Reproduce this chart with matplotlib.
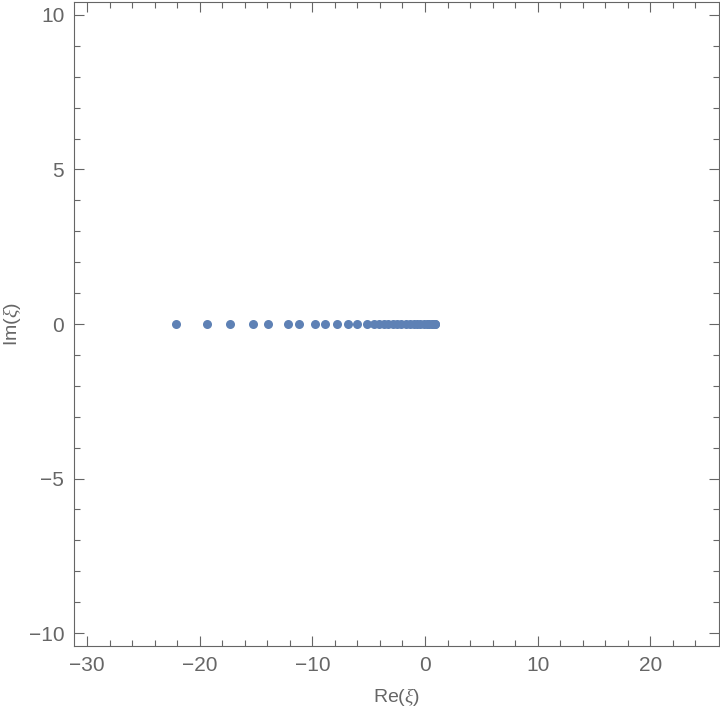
import numpy as np
import matplotlib; matplotlib.use('Agg')
import matplotlib.pyplot as plt

plt.rcParams['font.family'] = ['Liberation Sans', 'DejaVu Sans']
plt.rcParams['mathtext.fontset'] = 'custom'
plt.rcParams['mathtext.it'] = 'Liberation Serif:italic'

re_xi = [-22.13, -19.35, -17.27, -15.23, -13.98, -12.2, -11.17, -9.78, -8.89,
         -7.8, -6.87, -6.02, -5.19, -4.53, -4.1, -3.68, -3.27, -2.87, -2.48,
         -2.1, -1.73, -1.37, -1.02, -0.7, -0.4, -0.12, 0.14, 0.38, 0.58, 0.74,
         0.86, 0.92]
im_xi = [0.0] * len(re_xi)

xticks = [-30, -20, -10, 0, 10, 20]
yticks = [-10, -5, 0, 5, 10]

gray = '#666666'

fig = plt.figure(figsize=(7.2, 7.09), dpi=100)
ax = fig.add_axes([74/720, 63/709, 645/720, 644/709])
ax.plot(re_xi, im_xi, 'o', color='#5E81B5', markersize=6.5, markeredgewidth=0)

ax.set_xlim(-31.16, 26.1)
ax.set_ylim(-10.42, 10.42)
ax.set_xticks(xticks)
ax.set_yticks(yticks)
ax.set_xticks(np.arange(-30, 26, 2), minor=True)
ax.set_yticks(np.arange(-10, 11, 1), minor=True)
ax.set_xticklabels(['\u221230', '\u221220', '\u221210', '0', '10', '20'])
ax.set_yticklabels(['\u221210', '\u22125', '0', '5', '10'])

ax.tick_params(which='both', direction='in', top=True, right=True,
               colors=gray, labelcolor=gray, labelsize=15, width=0.8)
ax.tick_params(which='major', length=7, pad=7)
ax.tick_params(which='minor', length=4)
for s in ax.spines.values():
    s.set_color(gray)
    s.set_linewidth(0.8)

ax.set_xlabel(r'Re($\xi$)', color=gray, fontsize=14, labelpad=8)
ax.set_ylabel(r'Im($\xi$)', color=gray, fontsize=14, labelpad=4)

fig.savefig('out.png')
